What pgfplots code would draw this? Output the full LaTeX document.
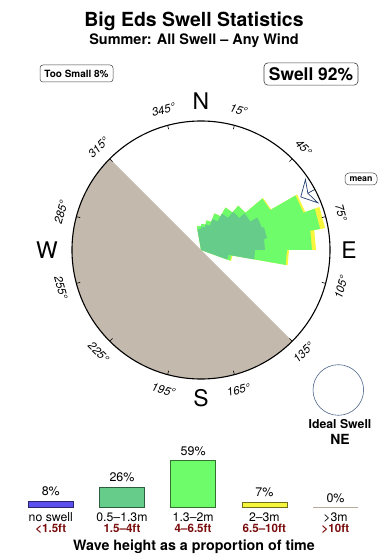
\documentclass[border=0pt]{standalone}
\usepackage{pgfplots}
\pgfplotsset{compat=1.18}
\usepgfplotslibrary{polar}
\usepackage{fontspec}
\setmainfont{TeX Gyre Heros}
\definecolor{land}{HTML}{C4B9AD}
\definecolor{dgreen}{HTML}{66CC8A}
\definecolor{lgreen}{HTML}{6FFC6A}
\definecolor{yel}{HTML}{F6F63C}
\definecolor{nsblue}{HTML}{5B50EE}
\definecolor{zero}{HTML}{B9AA9C}
\definecolor{dred}{HTML}{7A0C0C}
\definecolor{navy}{HTML}{22406E}
\newcommand{\cl}[3]{\node[rotate=#2, font=\itshape\fontsize{11.5}{12}\selectfont] at (axis cs:#1,145) {#3°};}
\begin{document}
\begin{tikzpicture}
\useasboundingbox (0,0) rectangle (390bp,560bp);
% titles
\node[anchor=base, font=\bfseries\fontsize{19.5}{20}\selectfont] at (194bp,533bp) {Big Eds Swell Statistics};
\node[anchor=base, font=\bfseries\fontsize{14.5}{16}\selectfont] at (194bp,515bp) {Summer: All Swell – Any Wind};
\node[draw=black!75, rounded corners=3bp, line width=0.5bp, minimum width=73bp, minimum height=17bp, inner sep=1bp, font=\bfseries\fontsize{10}{11}\selectfont] at (76.5bp,486.5bp) {Too Small 8\%};
\node[draw=black!75, rounded corners=4bp, line width=0.6bp, minimum width=94bp, minimum height=22.3bp, inner sep=1bp, font=\bfseries\fontsize{17.5}{18}\selectfont] at (311bp,486bp) {Swell 92\%};
\node[draw=black!75, rounded corners=4bp, line width=0.5bp, minimum width=32bp, minimum height=12bp, inner sep=1bp, font=\bfseries\fontsize{8.8}{9}\selectfont] at (361bp,381bp) {mean};

% ---------------- swell rose ----------------
\begin{polaraxis}[
  at={(201bp,310bp)}, anchor=center,
  width=258bp, height=258bp, scale only axis,
  xmin=0, xmax=360, ymin=0, ymax=129,
  xtick={15,45,...,345}, xticklabel=\empty,
  ytick=\empty,
  major tick length=4bp,
  tick align=outside,
  tick style={black, line width=0.6bp},
  separate axis lines,
  x axis line style={black, line width=1.1bp},
  y axis line style={draw=none},
  grid=none,
  axis on top,
  clip=false,
]
% land (SW half)
\addplot[fill=land, draw=none] coordinates {
(135,129) (140,129) (145,129) (150,129) (155,129) (160,129) (165,129) (170,129) (175,129)
(180,129) (185,129) (190,129) (195,129) (200,129) (205,129) (210,129) (215,129) (220,129)
(225,129) (230,129) (235,129) (240,129) (245,129) (250,129) (255,129) (260,129) (265,129)
(270,129) (275,129) (280,129) (285,129) (290,129) (295,129) (300,129) (305,129) (310,129) (315,129)
} -- cycle;
% 2-3m (total)
\addplot[fill=yel, draw=none] coordinates {
(0,0) (100,24) (90,24) (90,26) (80,26) (80,30) (70,30) (70,39) (60,39) (60,49) (50,49)
(50,58) (40,58) (40,81) (30,81) (30,111) (20,111) (20,126) (10,126) (10,115) (0,115)
(0,88) (350,88) (350,32) (340,32) (0,0)};
% 1.3-2m
\addplot[fill=lgreen, draw=none] coordinates {
(0,0) (100,24) (90,24) (90,26) (80,26) (80,30) (70,30) (70,39) (60,39) (60,49) (50,49)
(50,58) (40,58) (40,80) (30,80) (30,109) (20,109) (20,121) (10,121) (10,111) (0,111)
(0,86) (350,86) (350,31) (340,31) (0,0)};
% 0.5-1.3m
\addplot[fill=dgreen, draw=none] coordinates {
(0,0) (100,21) (90,21) (90,23) (80,23) (80,26) (70,26) (70,33) (60,33) (60,42) (50,42)
(50,50) (40,50) (40,57) (30,57) (30,65) (20,65) (20,67) (10,67) (10,64) (0,64)
(0,54) (350,54) (350,28) (340,28) (0,0)};
% mean direction arrow
\addplot[fill=white, draw=navy, line width=0.7bp] coordinates {
(28,113) (34,126) (28,121) (22,126) (28,113)};
\addplot[draw=navy, line width=0.7bp] coordinates {(28,121) (28,129)};
% cardinal letters
\node[font=\fontsize{23}{24}\selectfont] at (axis cs:90,149) {N};
\node[font=\fontsize{23}{24}\selectfont] at (axis cs:0,148) {E};
\node[font=\fontsize{23}{24}\selectfont] at (axis cs:270,148) {S};
\node[font=\fontsize{23}{24}\selectfont] at (axis cs:180,154) {W};
% degree labels
\cl{75}{-15}{15}
\cl{45}{-45}{45}
\cl{15}{-75}{75}
\cl{345}{75}{105}
\cl{315}{45}{135}
\cl{285}{15}{165}
\cl{255}{-15}{195}
\cl{225}{-45}{225}
\cl{195}{-75}{255}
\cl{165}{75}{285}
\cl{135}{45}{315}
\cl{105}{15}{345}
\end{polaraxis}

% ---------------- ideal swell ----------------
\begin{polaraxis}[
  at={(338.3bp,170bp)}, anchor=center,
  width=50.6bp, height=50.6bp, scale only axis,
  xmin=0, xmax=360, ymin=0, ymax=1,
  xtick=\empty, ytick=\empty, grid=none,
  separate axis lines,
  x axis line style={navy!80, line width=0.6bp},
  y axis line style={draw=none},
]
\addplot[draw=none] coordinates {(0,0)};
\end{polaraxis}
\node[font=\bfseries\fontsize{12.3}{13}\selectfont] at (340bp,135.5bp) {Ideal Swell};
\node[font=\bfseries\fontsize{14}{15}\selectfont] at (340bp,121bp) {NE};

% ---------------- wave height proportions ----------------
\begin{axis}[
  at={(15.2bp,52.3bp)}, anchor=south west,
  width=355.9bp, height=47.8bp, scale only axis,
  xmin=-0.5, xmax=4.5, ymin=0, ymax=60,
  axis lines=none,
  ybar, bar width=45bp, bar shift=0pt,
  point meta=explicit symbolic,
  nodes near coords,
  nodes near coords style={anchor=base, yshift=5.5bp, font=\fontsize{12.5}{14}\selectfont, text=black},
  clip=false,
]
\addplot[fill=nsblue, draw=nsblue!45!black, line width=0.6bp] coordinates {(0,8) [8\%]};
\addplot[fill=dgreen, draw=dgreen!45!black, line width=0.6bp] coordinates {(1,26) [26\%]};
\addplot[fill=lgreen, draw=lgreen!45!black, line width=0.6bp] coordinates {(2,59) [59\%]};
\addplot[fill=yel, draw=yel!45!black, line width=0.6bp] coordinates {(3,7) [7\%]};
\addplot[fill=zero, draw=zero, line width=1.4bp] coordinates {(4,0) [0\%]};
\node[anchor=base, yshift=-14bp, font=\fontsize{12.3}{13}\selectfont] at (axis cs:0,0) {no swell};
\node[anchor=base, yshift=-14bp, font=\fontsize{12.3}{13}\selectfont] at (axis cs:1,0) {0.5–1.3m};
\node[anchor=base, yshift=-14bp, font=\fontsize{12.3}{13}\selectfont] at (axis cs:2,0) {1.3–2m};
\node[anchor=base, yshift=-14bp, font=\fontsize{12.3}{13}\selectfont] at (axis cs:3,0) {2–3m};
\node[anchor=base, yshift=-14bp, font=\fontsize{12.3}{13}\selectfont] at (axis cs:4,0) {>3m};
\node[anchor=base, yshift=-24.6bp, text=dred, font=\bfseries\fontsize{11.6}{12}\selectfont] at (axis cs:0,0) {<1.5ft};
\node[anchor=base, yshift=-24.6bp, text=dred, font=\bfseries\fontsize{11.6}{12}\selectfont] at (axis cs:1,0) {1.5–4ft};
\node[anchor=base, yshift=-24.6bp, text=dred, font=\bfseries\fontsize{11.6}{12}\selectfont] at (axis cs:2,0) {4–6.5ft};
\node[anchor=base, yshift=-24.6bp, text=dred, font=\bfseries\fontsize{11.6}{12}\selectfont] at (axis cs:3,0) {6.5–10ft};
\node[anchor=base, yshift=-24.6bp, text=dred, font=\bfseries\fontsize{11.6}{12}\selectfont] at (axis cs:4,0) {>10ft};
\end{axis}
\node[anchor=base, font=\bfseries\fontsize{14.3}{15}\selectfont] at (194bp,10bp) {Wave height as a proportion of time};
\end{tikzpicture}
\end{document}
